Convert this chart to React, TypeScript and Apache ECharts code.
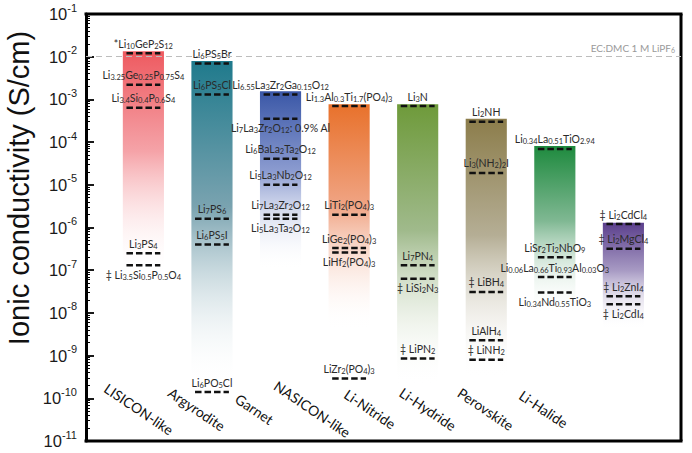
import React, { useEffect, useRef } from "react";
import * as echarts from "echarts";

const categories = [
  "LISICON-like",
  "Argyrodite",
  "Garnet",
  "NASICON-like",
  "Li-Nitride",
  "Li-Hydride",
  "Perovskite",
  "Li-Halide",
];
const barTop = [1.35e-2, 7.9e-3, 1.55e-3, 7.7e-4, 7.7e-4, 3.5e-4, 8.1e-5, 1.3e-6];
const barBottom = [8e-8, 2e-10, 1e-7, 4e-9, 2e-10, 3e-10, 1e-8, 4e-9];
const barTopColors = ["#ee5a60", "#1f7a8c", "#3a57a7", "#e8712b", "#6e9a3a", "#8c7d4b", "#1e8a3e", "#5b3f8c"];
const barMidColors = ["#f5a3a8", "#7aa3b0", "#8c9cd0", "#f0a484", "#a0ba8c", "#b5ae95", "#80b893", "#a89bc4"];

const materialNames = [
  "*Li_{10}GeP_{2}S_{12}",
  "Li_{3.25}Ge_{0.25}P_{0.75}S_{4}",
  "Li_{3.4}Si_{0.4}P_{0.6}S_{4}",
  "Li_{3}PS_{4}",
  "‡ Li_{3.5}Si_{0.5}P_{0.5}O_{4}",
  "Li_{6}PS_{5}Br",
  "Li_{6}PS_{5}Cl",
  "Li_{7}PS_{6}",
  "Li_{6}PS_{5}I",
  "Li_{6}PO_{5}Cl",
  "Li_{6.55}La_{3}Zr_{2}Ga_{0.15}O_{12}",
  "Li_{7}La_{3}Zr_{2}O_{12}: 0.9% Al",
  "Li_{6}BaLa_{2}Ta_{2}O_{12}",
  "Li_{5}La_{3}Nb_{2}O_{12}",
  "Li_{7}La_{3}Zr_{2}O_{12}",
  "Li_{5}La_{3}Ta_{2}O_{12}",
  "Li_{1.3}Al_{0.3}Ti_{1.7}(PO_{4})_{3}",
  "LiTi_{2}(PO_{4})_{3}",
  "LiGe_{2}(PO_{4})_{3}",
  "LiHf_{2}(PO_{4})_{3}",
  "LiZr_{2}(PO_{4})_{3}",
  "Li_{3}N",
  "Li_{7}PN_{4}",
  "‡ LiSi_{2}N_{3}",
  "‡ LiPN_{2}",
  "Li_{2}NH",
  "Li_{3}(NH_{2})_{2}I",
  "‡ LiBH_{4}",
  "LiAlH_{4}",
  "‡ LiNH_{2}",
  "Li_{0.34}La_{0.51}TiO_{2.94}",
  "LiSr_{2}Ti_{2}NbO_{9}",
  "Li_{0.06}La_{0.66}Ti_{0.93}Al_{0.03}O_{3}",
  "Li_{0.34}Nd_{0.55}TiO_{3}",
  "‡ Li_{2}CdCl_{4}",
  "‡ Li_{2}MgCl_{4}",
  "‡ Li_{2}ZnI_{4}",
  "‡ Li_{2}CdI_{4}",
];
const materialCategory = [
  0, 0, 0, 0, 0,
  1, 1, 1, 1, 1,
  2, 2, 2, 2, 2, 2,
  3, 3, 3, 3, 3,
  4, 4, 4, 4,
  5, 5, 5, 5, 5,
  6, 6, 6, 6,
  7, 7, 7, 7,
];
const materialValues = [
  1.2e-2, 2.2e-3, 6.4e-4, 2.5e-7, 1.3e-7,
  6.9e-3, 1.3e-3, 1.6e-6, 4e-7, 1.4e-10,
  1.3e-3, 3.5e-4, 4.1e-5, 1.0e-5, 2.0e-6, 1.6e-6,
  7e-4, 2e-6, 3.3e-7, 2.6e-7, 2.9e-10,
  7e-4, 1.3e-7, 6.3e-8, 8.5e-10,
  3e-4, 1.9e-5, 3.1e-8, 2.3e-9, 8e-10,
  6.9e-5, 2e-7, 6.9e-8, 3e-8,
  1.2e-6, 3.2e-7, 2.45e-8, 1.6e-8,
];
const materialLabelSide = [
  "above", "above", "above", "above", "below",
  "above", "above", "above", "above", "above",
  "above", "below", "above", "above", "above", "below",
  "above", "above", "above", "below", "above",
  "above", "above", "below", "above",
  "above", "above", "above", "above", "above",
  "above", "above", "above", "below",
  "above", "above", "above", "below",
];

const xMin = -0.837;
const xMax = 7.84;
const yMin = 1e-11;
const yMax = 1e-1;
const refLineValue = 0.0112;
const refLineLabel = "EC:DMC 1 M LiPF_{6}";
const categoryLabelLevel = 5.6e-11;
const yTitle = "Ionic conductivity (S/cm)";

const toRich = (s: string) => s.replace(/_\{([^}]*)\}/g, "{s|$1}");

const LABEL_FONT = "Lato, 'Open Sans', sans-serif";
const AXIS_FONT = "'Liberation Sans', Arial, sans-serif";

const W = 692;
const H = 453;

export default function App() {
  const ref = useRef<HTMLDivElement>(null);
  useEffect(() => {
    document.body.style.margin = "0";
    const chart = echarts.init(ref.current!, null, { renderer: "svg" });
    const option: any = {
      animation: false,
      backgroundColor: "#ffffff",
      grid: { left: 86, right: 11, top: 14, bottom: 12 },
      xAxis: [
        { type: "value", min: xMin, max: xMax, show: false },
        { type: "value", min: -0.915, max: 9.378, show: false },
      ],
      yAxis: {
        type: "log",
        logBase: 10,
        min: yMin,
        max: yMax,
        interval: 1,
        position: "left",
        axisLine: { show: true, onZero: false, lineStyle: { color: "#000", width: 3 } },
        axisTick: { show: true, inside: true, length: 8, lineStyle: { color: "#000", width: 1.8 } },
        minorTick: { show: true, splitNumber: 9, length: 4, lineStyle: { color: "#000", width: 1 } },
        splitLine: { show: false },
        axisLabel: {
          margin: 9,
          color: "#1a1a1a",
          fontSize: 16.5,
          fontFamily: AXIS_FONT,
          lineHeight: 24,
          formatter: (v: number) => "10{sup|" + Math.round(Math.log10(v)) + "}",
          rich: {
            sup: {
              fontSize: 11,
              lineHeight: 10,
              verticalAlign: "top",
              color: "#1a1a1a",
              fontFamily: AXIS_FONT,
            },
          },
        },
      },
      graphic: {
        elements: [
          {
            type: "text",
            x: 19,
            y: 188,
            rotation: Math.PI / 2,
            style: {
              text: yTitle,
              fontSize: 29,
              fontFamily: AXIS_FONT,
              fill: "#111",
              align: "center",
              verticalAlign: "middle",
              textAlign: "center",
              textVerticalAlign: "middle",
            },
          },
        ],
      },
      series: [
        {
          type: "custom",
          name: "bars",
          xAxisIndex: 0,
          yAxisIndex: 0,
          data: categories.map((c, i) => [i, barTop[i], barBottom[i]]),
          encode: { x: 0, y: [1, 2] },
          renderItem: (params: any, api: any) => {
            const i = api.value(0);
            const idx = params.dataIndex;
            const p1 = api.coord([i - 0.3, api.value(1)]);
            const p2 = api.coord([i + 0.3, api.value(2)]);
            return {
              type: "rect",
              shape: { x: p1[0], y: p1[1], width: p2[0] - p1[0], height: p2[1] - p1[1] },
              style: {
                fill: new echarts.graphic.LinearGradient(0, 0, 0, 1, [
                  { offset: 0, color: barTopColors[idx] },
                  { offset: 0.45, color: barMidColors[idx] },
                  { offset: 1, color: "rgba(255,255,255,0)" },
                ]),
              },
            };
          },
          markLine: {
            silent: true,
            symbol: ["none", "none"],
            data: [{ yAxis: refLineValue }],
            lineStyle: { color: "#bdbdbd", type: [6, 4], width: 1.2 },
            label: {
              show: true,
              position: "insideEndTop",
              distance: [6, 3],
              formatter: toRich(refLineLabel),
              color: "#9a9a9a",
              fontSize: 10,
              fontFamily: LABEL_FONT,
              lineHeight: 12,
              rich: { s: { fontSize: 7, lineHeight: 7, verticalAlign: "bottom", color: "#9a9a9a", fontFamily: LABEL_FONT } },
            },
          },
        },
        {
          type: "custom",
          name: "materials",
          xAxisIndex: 0,
          yAxisIndex: 0,
          data: materialValues.map((v, k) => [materialCategory[k], v]),
          encode: { x: 0, y: 1 },
          renderItem: (params: any, api: any) => {
            const k = params.dataIndex;
            const x = api.value(0);
            const v = api.value(1);
            const c = api.coord([x, v]);
            const l = api.coord([x - 0.247, v]);
            const r = api.coord([x + 0.247, v]);
            const above = materialLabelSide[k] === "above";
            const children: any[] = [
              {
                type: "line",
                shape: { x1: l[0], y1: c[1], x2: r[0], y2: c[1] },
                style: { stroke: "#111", lineWidth: 2.5, lineDash: [6.5, 3] },
              },
              {
                type: "text",
                x: c[0],
                y: above ? c[1] - 3 : c[1] + 3,
                style: {
                  text: toRich(materialNames[k]),
                  fontSize: 10.5,
                  fontFamily: LABEL_FONT,
                  fill: "#2a2a2a",
                  lineHeight: 13,
                  align: "center",
                  textAlign: "center",
                  verticalAlign: above ? "bottom" : "top",
                  textVerticalAlign: above ? "bottom" : "top",
                  rich: {
                    s: { fontSize: 7.5, lineHeight: 8, verticalAlign: "bottom", fill: "#2a2a2a", fontFamily: LABEL_FONT },
                  },
                },
              },
            ];
            if (k === 0) {
              const tl = api.coord([xMin, yMax]);
              const br = api.coord([xMax, yMin]);
              const frame = (x1: number, y1: number, x2: number, y2: number) => ({
                type: "line",
                shape: { x1, y1, x2, y2 },
                style: { stroke: "#000", lineWidth: 3 },
              });
              children.push(frame(tl[0] - 1.5, tl[1], br[0] + 1.5, tl[1]));
              children.push(frame(br[0], tl[1], br[0], br[1]));
              children.push(frame(tl[0] - 1.5, br[1], br[0] + 1.5, br[1]));
            }
            return { type: "group", children };
          },
        },
        {
          type: "custom",
          name: "categoryLabels",
          xAxisIndex: 1,
          yAxisIndex: 0,
          data: categories.map((c, i) => [i, categoryLabelLevel]),
          encode: { x: 0, y: 1 },
          renderItem: (params: any, api: any) => {
            const p = api.coord([api.value(0), api.value(1)]);
            return {
              type: "text",
              x: p[0],
              y: p[1],
              rotation: (-34 * Math.PI) / 180,
              style: {
                text: categories[params.dataIndex],
                fontSize: 14,
                fontFamily: LABEL_FONT,
                fill: "#111",
                align: "center",
                textAlign: "center",
                verticalAlign: "middle",
                textVerticalAlign: "middle",
              },
            };
          },
        },
      ],
    };
    chart.setOption(option);
    return () => chart.dispose();
  }, []);
  return <div ref={ref} style={{ position: "absolute", left: 0, top: 0, width: W, height: H }} />;
}
